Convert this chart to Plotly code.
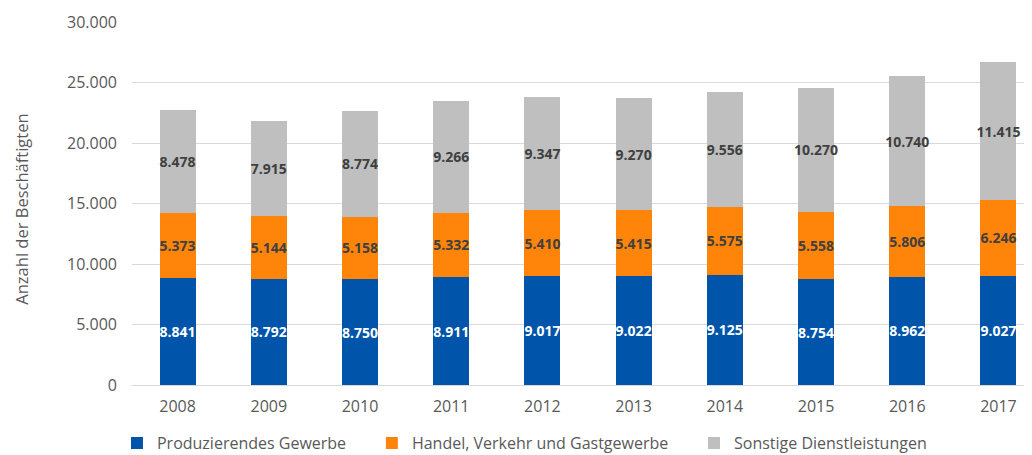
import plotly.graph_objects as go

years = ["2008", "2009", "2010", "2011", "2012", "2013", "2014", "2015", "2016", "2017"]
produzierend = [8841, 8792, 8750, 8911, 9017, 9022, 9125, 8754, 8962, 9027]
handel = [5373, 5144, 5158, 5332, 5410, 5415, 5575, 5558, 5806, 6246]
sonstige = [8478, 7915, 8774, 9266, 9347, 9270, 9556, 10270, 10740, 11415]

PAD = "\u00a0" * 5  # trailing spacing between legend entries
series = [
    ("Produzierendes Gewerbe" + PAD, produzierend, "#0055AA", "#FFFFFF"),
    ("Handel, Verkehr und Gastgewerbe" + PAD, handel, "#FF850A", "#404040"),
    ("Sonstige Dienstleistungen", sonstige, "#BFBFBF", "#404040"),
]

FONT = "Open Sans"
fig = go.Figure()
for name, vals, color, tcolor in series:
    fig.add_trace(go.Bar(
        x=years, y=vals, name=name,
        marker=dict(color=color, line=dict(width=0)),
        width=0.395,
        texttemplate="%{y:,}",
        textposition="inside",
        insidetextanchor="middle",
        textangle=0,
        constraintext="none",
        textfont=dict(family=FONT, size=14, color=tcolor, weight="bold"),
        hoverinfo="skip",
    ))

fig.add_annotation(
    text="Anzahl der Beschäftigten", textangle=-90,
    xref="paper", yref="paper", x=-0.1225, y=0.485,
    xanchor="center", yanchor="middle", showarrow=False,
    font=dict(family=FONT, size=16.5, color="#595959"),
)

# the page body has an 8px margin, so the figure is sized 8px smaller
fig.update_layout(
    barmode="stack",
    separators=",.",
    width=1024, height=447,
    margin=dict(l=124, r=0, t=14, b=70, autoexpand=False),
    paper_bgcolor="white", plot_bgcolor="white",
    font=dict(family=FONT, size=16, color="#595959"),
    showlegend=True,
    legend=dict(
        orientation="h", x=-0.0167, xanchor="left", y=-0.16, yanchor="middle",
        font=dict(family=FONT, size=16, color="#595959"),
        traceorder="normal", itemclick=False, itemdoubleclick=False,
    ),
    xaxis=dict(
        type="category", range=[-0.5, 9.368], automargin=False,
        showgrid=False, showline=False, zeroline=False,
        ticks="", ticklabelstandoff=10,
        tickfont=dict(family=FONT, size=16, color="#595959"),
    ),
    yaxis=dict(
        range=[0, 30000], dtick=5000, tickformat=",", automargin=False,
        showgrid=True, gridcolor="#D9D9D9", gridwidth=1,
        zeroline=True, zerolinecolor="#D9D9D9", zerolinewidth=1,
        showline=False, ticks="", ticklabelstandoff=14,
        tickfont=dict(family=FONT, size=16, color="#595959"),
    ),
)

fig.write_html("out.html")
